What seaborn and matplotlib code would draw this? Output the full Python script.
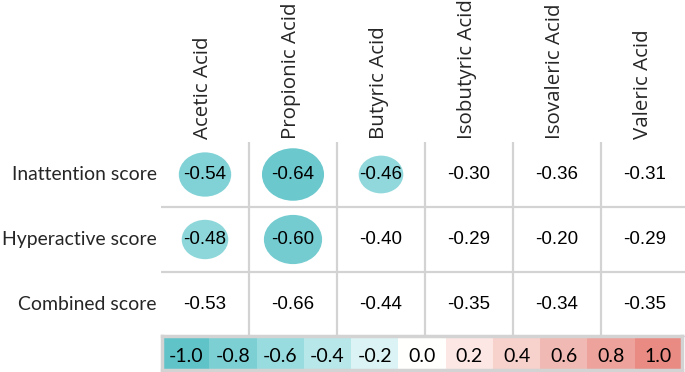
import numpy as np
import pandas as pd
import matplotlib
matplotlib.use("Agg")
import matplotlib.pyplot as plt
import seaborn as sns
from matplotlib.colors import LinearSegmentedColormap, Normalize
from matplotlib.patches import Ellipse

# ---- data ----
rows = ["Inattention score", "Hyperactive score", "Combined score"]
cols = ["Acetic Acid", "Propionic Acid", "Butyric Acid",
        "Isobutyric Acid", "Isovaleric Acid", "Valeric Acid"]
inattention = [-0.54, -0.64, -0.46, -0.30, -0.36, -0.31]
hyperactive = [-0.48, -0.60, -0.40, -0.29, -0.20, -0.29]
combined = [-0.53, -0.66, -0.44, -0.35, -0.34, -0.35]
sig_inattention = [True, True, True, False, False, False]
sig_hyperactive = [True, True, False, False, False, False]
sig_combined = [False, False, False, False, False, False]
legend_values = [-1.0, -0.8, -0.6, -0.4, -0.2, 0.0, 0.2, 0.4, 0.6, 0.8, 1.0]
legend_labels = ["-1.0", "-0.8", "-0.6", "-0.4", "-0.2", "0.0",
                 "0.2", "0.4", "0.6", "0.8", "1.0"]

# ---- style ----
scale_colors = ["#60c3c8", "#7dd0d4", "#99dcdf", "#b9e7e9", "#dbf3f4", "#ffffff",
                "#fce7e5", "#f7d1cd", "#f1b9b3", "#eda39c", "#e98b83"]
cmap = LinearSegmentedColormap.from_list("tealred", scale_colors)
grid_color = "#d3d3d3"

sns.set_theme(style="white")
plt.rcParams["font.family"] = ["Lato", "DejaVu Sans"]

W, H = 685, 372
fig = plt.figure(figsize=(W / 100, H / 100), dpi=100)

# main grid
ax = fig.add_axes([161 / W, 1 - 337 / H, 528 / W, 195 / H])
df = pd.DataFrame([inattention, hyperactive, combined], index=rows, columns=cols)
sig = np.array([sig_inattention, sig_hyperactive, sig_combined])
white = LinearSegmentedColormap.from_list("white", ["#ffffff", "#ffffff"])
sns.heatmap(df, ax=ax, cmap=white, cbar=False, annot=True, fmt=".2f",
            linewidths=0,
            annot_kws={"fontsize": 13.5, "family": "Liberation Sans", "color": "black"})

ax.xaxis.tick_top()
ax.set_xticks(np.arange(len(cols)) + 0.48)
ax.set_xticklabels(cols, rotation=90, fontsize=14, va="bottom",
                   family=["Open Sans", "DejaVu Sans"])
ax.set_yticklabels(rows, rotation=0, fontsize=14)
ax.tick_params(axis="both", length=0)
ax.tick_params(axis="x", pad=2)
ax.tick_params(axis="y", pad=3)
ax.set_xlabel("")
ax.set_ylabel("")

# fit label font sizes to the reference text extents
fig.canvas.draw()
rend = fig.canvas.get_renderer()
xl = ax.get_xticklabels()
ref_x = [t for t in xl if t.get_text() == "Propionic Acid"][0]
fs_x = ref_x.get_fontsize() * 137 / ref_x.get_window_extent(rend).height
for t in xl:
    t.set_fontsize(fs_x)
yl = ax.get_yticklabels()
ref_y = [t for t in yl if t.get_text() == "Hyperactive score"][0]
fs_y = ref_y.get_fontsize() * 155 / ref_y.get_window_extent(rend).width
for t in yl:
    t.set_fontsize(fs_y)

for x in range(1, len(cols)):
    ax.axvline(x, color=grid_color, lw=1.6, zorder=1.5)
for y in range(1, len(rows) + 1):
    ax.axhline(y, color=grid_color, lw=1.6, zorder=1.5)

# significance ellipses
circ_norm = Normalize(vmin=-0.7, vmax=0.7, clip=True)
cell_w_px, cell_h_px = 88, 65
for i in range(len(rows)):
    for j in range(len(cols)):
        if sig[i, j]:
            r = df.iloc[i, j]
            w = 97 * abs(r) / cell_w_px
            h = 82 * abs(r) / cell_h_px
            ax.add_patch(Ellipse((j + 0.5, i + 0.5), w, h,
                                 facecolor=cmap(circ_norm(r)),
                                 edgecolor="none", zorder=2))

# colour scale bar
cax = fig.add_axes([162 / W, 2 / H, 520 / W, 34 / H])
leg = pd.DataFrame([legend_values])
sns.heatmap(leg, ax=cax, cmap=cmap, vmin=-1, vmax=1, cbar=False,
            annot=False, linewidths=0,
            xticklabels=False, yticklabels=False)
for k, lab in enumerate(legend_labels):
    cax.text(k + 0.5, 0.6, lab, ha="center", va="center",
             fontsize=14, color="black")
for sp in cax.spines.values():
    sp.set_visible(True)
    sp.set_color(grid_color)
    sp.set_linewidth(2.5)

fig.savefig("out.png", dpi=100)
